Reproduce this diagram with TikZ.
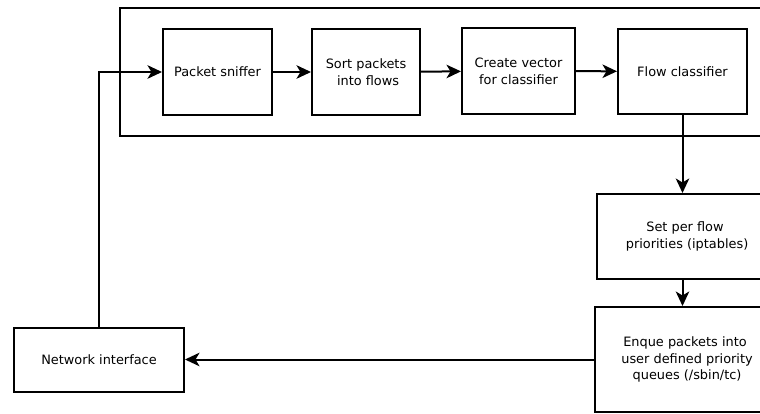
\documentclass[tikz,border=0pt]{standalone}
\usepackage{fontspec}
\setmainfont{DejaVu Sans}
\usetikzlibrary{arrows.meta}
\begin{document}
\begin{tikzpicture}[x=1pt,y=-1pt,
  box/.style={draw,line width=2pt,rectangle,inner sep=0pt,align=center,
    font=\fontsize{12.9}{16.8}\selectfont},
  tipstyle/.tip={Stealth[length=14.5pt,width=13.5pt,inset=4pt]},
  conn/.style={line width=2pt,-tipstyle}]
\useasboundingbox (0,0) rectangle (760,414);
\clip (0,0) rectangle (760,414);
\fill[white] (0,0) rectangle (760,414);
% container
\draw[line width=2pt] (800,8) -- (120,8) -- (120,136) -- (800,136);
\node[box,minimum width=109pt,minimum height=86pt] (ps) at (217.5,72) {Packet sniffer};
\node[box,minimum width=108pt,minimum height=86pt] (sp) at (366,72) {Sort packets\\\ into flows};
\node[box,minimum width=113pt,minimum height=86pt] (cv) at (518.5,71) {Create vector\\for classifier};
\node[box,minimum width=129pt,minimum height=85pt] (fc) at (682.5,71.5) {Flow classifier};
\node[box,minimum width=176pt,minimum height=84.5pt] (spf) at (685,236.25) {Set per flow\\\ priorities (iptables)};
\node[box,minimum width=180pt,minimum height=105pt] (enq) at (685,359.5) {Enque packets into\\\ user defined priority\\\ queues (/sbin/tc)};
\node[box,minimum width=170pt,minimum height=64pt] (ni) at (99,360) {Network interface};
\draw[conn] (ps) -- (sp);
\draw[conn] (sp) -- (cv);
\draw[conn] (cv) -- (fc);
\draw[conn] (fc.south) -- (fc.south |- spf.north);
\draw[conn] (fc.south |- spf.south) -- (fc.south |- enq.north);
\draw[conn] (enq.west) -- (enq.west -| ni.east);
\draw[conn] (ni.north) |- (ps.west);
\end{tikzpicture}
\end{document}
